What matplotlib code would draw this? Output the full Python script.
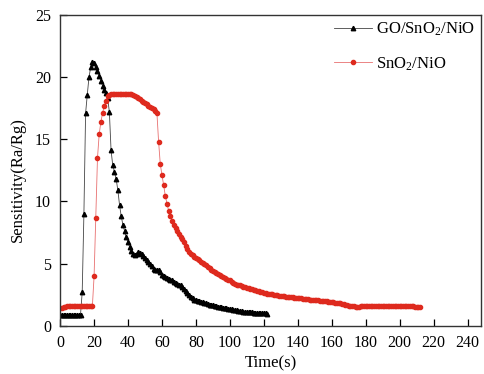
import numpy as np
import matplotlib
matplotlib.use("Agg")
import matplotlib.pyplot as plt

plt.rcParams['font.family'] = ['Liberation Serif', 'DejaVu Serif']
plt.rcParams['mathtext.fontset'] = 'custom'
plt.rcParams['mathtext.rm'] = 'Liberation Serif'
plt.rcParams['mathtext.it'] = 'Liberation Serif:italic'

# GO/SnO2/NiO sensitivity, one reading per second (t = 0 .. 122 s)
go_values = [
    0.9, 0.9, 0.9, 0.9, 0.9, 0.9, 0.9, 0.9, 0.9, 0.9, 0.9, 0.9, 0.9,
    2.7, 9.0, 17.1, 18.6, 20.0, 20.8, 21.2, 21.1, 20.8, 20.5, 20.1, 19.7,
    19.3, 19.0, 18.7, 18.3, 17.2, 14.1, 12.9, 12.4, 11.8, 10.9, 9.7, 8.8,
    8.1, 7.6, 7.1, 6.7, 6.3, 6.0, 5.8, 5.7, 5.8, 5.9, 5.85, 5.75, 5.6,
    5.45, 5.3, 5.1, 4.95, 4.8, 4.6, 4.5, 4.5, 4.45, 4.3, 4.1, 4.0, 3.95,
    3.85, 3.8, 3.7, 3.65, 3.55, 3.45, 3.35, 3.3, 3.25, 3.1, 2.95, 2.8,
    2.6, 2.45, 2.3, 2.2, 2.1, 2.05, 2.0, 1.97, 1.93, 1.9, 1.85, 1.8,
    1.75, 1.7, 1.67, 1.63, 1.6, 1.55, 1.52, 1.5, 1.48, 1.45, 1.43, 1.4,
    1.37, 1.35, 1.32, 1.29, 1.26, 1.23, 1.2, 1.18, 1.16, 1.14, 1.12, 1.1,
    1.09, 1.08, 1.07, 1.06, 1.05, 1.04, 1.03, 1.02, 1.01, 1.0, 0.99, 0.98,
]

# SnO2/NiO sensitivity, one reading per second (t = 0 .. 212 s)
sno_values = [
    1.4, 1.45, 1.5, 1.52, 1.55, 1.57, 1.6, 1.6, 1.6, 1.6, 1.6, 1.6, 1.6,
    1.6, 1.6, 1.6, 1.6, 1.6, 1.6, 1.6,
    4.0, 8.7, 13.5, 15.4, 16.4, 17.1, 17.7, 18.1, 18.45, 18.6, 18.65,
    18.65, 18.65, 18.65, 18.65, 18.65, 18.65, 18.65, 18.65, 18.65, 18.65,
    18.65, 18.65,
    18.6, 18.5, 18.4, 18.3, 18.2, 18.1, 18.0, 17.9, 17.8, 17.7, 17.6,
    17.5, 17.4, 17.3, 17.15,
    14.8, 13.0, 12.1, 11.3, 10.4, 9.8, 9.2, 8.8, 8.4, 8.1, 7.85, 7.6,
    7.4, 7.15, 6.95, 6.7, 6.45, 6.2,
    5.9, 5.8, 5.7, 5.55, 5.45, 5.35, 5.25, 5.15, 5.05, 4.95, 4.85, 4.72,
    4.62, 4.52, 4.42, 4.33, 4.25, 4.15, 4.07, 4.0, 3.95, 3.88, 3.8, 3.72,
    3.65, 3.55, 3.45, 3.35, 3.3, 3.27, 3.25, 3.2, 3.15, 3.1, 3.05, 3.02,
    2.99, 2.94, 2.89, 2.84, 2.8, 2.76, 2.72, 2.68, 2.65, 2.62, 2.59, 2.56,
    2.54, 2.52, 2.5, 2.48, 2.45, 2.42, 2.4, 2.38, 2.36, 2.34, 2.33, 2.32,
    2.31, 2.29, 2.27, 2.25, 2.23, 2.21, 2.2, 2.18, 2.16, 2.15, 2.13, 2.11,
    2.1, 2.08, 2.07, 2.05, 2.04, 2.02, 2.0, 1.99, 1.97, 1.96, 1.94, 1.93,
    1.91, 1.89, 1.87, 1.85, 1.83, 1.8, 1.77, 1.73, 1.69, 1.65, 1.61, 1.58,
    1.56, 1.55, 1.54, 1.53,
    1.54, 1.55, 1.56, 1.57, 1.58, 1.59, 1.6, 1.6, 1.6, 1.6, 1.6,
    1.6, 1.6, 1.59, 1.59, 1.59, 1.58, 1.58, 1.58, 1.58, 1.58, 1.58, 1.58,
    1.58,
    1.57, 1.57, 1.57, 1.56, 1.56, 1.56, 1.55, 1.55, 1.55, 1.54, 1.54,
    1.53, 1.53,
]

go_time = np.arange(len(go_values))
sno_time = np.arange(len(sno_values))

xticks = list(range(0, 241, 20))
yticks = [0, 5, 10, 15, 20, 25]

fig = plt.figure(figsize=(4.85, 3.74), dpi=100)
ax = fig.add_axes([0.124, 0.129, 0.868, 0.831])

red = '#de2a1e'
ax.plot(go_time, go_values, color='#444444', lw=0.6, marker='^', ms=3.2,
        mfc='black', mec='black', label='GO/SnO$_2$/NiO')
ax.plot(sno_time, sno_values, color='#e87070', lw=0.6, marker='o', ms=3.0,
        mfc=red, mec=red, label='SnO$_2$/NiO')

ax.set_xlim(0, 248)
ax.set_ylim(0, 25)
ax.set_xticks(xticks)
ax.set_yticks(yticks)
ax.tick_params(direction='in', length=5, width=0.9, labelsize=11.5, pad=6.5)
for s in ax.spines.values():
    s.set_linewidth(1.0)
    s.set_color('#333333')

ax.set_xlabel('Time(s)', fontsize=12, labelpad=3)
ax.set_ylabel('Sensitivity(Ra/Rg)', fontsize=12)
ax.yaxis.set_label_coords(-0.082, 0.47)

leg = ax.legend(loc='upper right', bbox_to_anchor=(478 / 485, 1 - 17 / 374),
                bbox_transform=fig.transFigure, frameon=False,
                fontsize=12, labelspacing=1.05, handlelength=2.3,
                handletextpad=0.2, borderaxespad=0.0, borderpad=0.2)

fig.savefig('out.png', dpi=100)
